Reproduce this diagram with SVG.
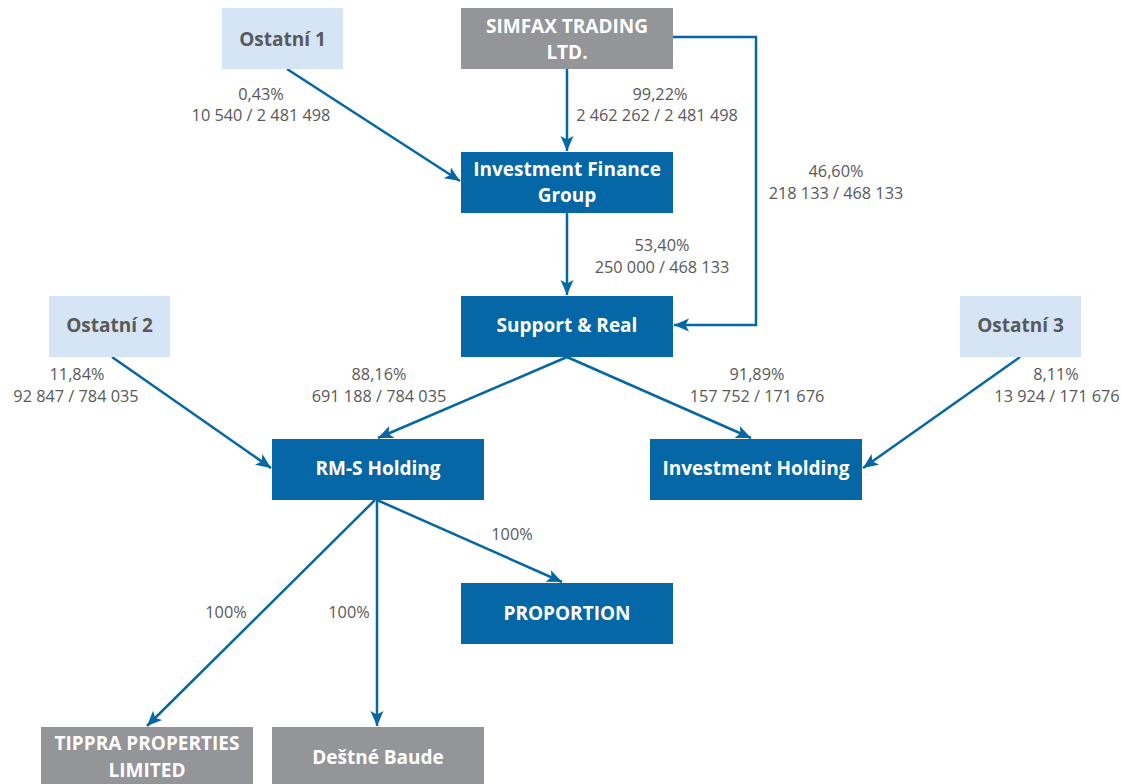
<svg xmlns="http://www.w3.org/2000/svg" width="1122" height="784" viewBox="0 0 1122 784">
<defs>
<marker id="ah" markerUnits="userSpaceOnUse" markerWidth="16" markerHeight="16" viewBox="0 0 16 16" refX="15" refY="8" orient="auto">
<path d="M0,1.5 L15,8 L0,14.5 L3.5,8 Z" fill="#0567a5"/>
</marker>
<style>
.dk{fill:#0567a5}
.lt{fill:#d5e5f5}
.gr{fill:#939598}
.tw{font-family:"Open Sans","Noto Sans",sans-serif;font-weight:bold;font-size:19px;fill:#ffffff;text-anchor:middle}
.tg{font-family:"Open Sans","Noto Sans",sans-serif;font-weight:bold;font-size:19px;fill:#58595b;text-anchor:middle}
.lb{font-family:"Open Sans","Noto Sans",sans-serif;font-size:16.3px;fill:#58595b;text-anchor:middle}
.cn{fill:none;stroke:#0567a5;stroke-width:2.5;marker-end:url(#ah)}
</style>
</defs>
<g id="connectors">
<path class="cn" d="M287,69 L460,181"/>
<path class="cn" d="M567,69 L567,151"/>
<path class="cn" d="M673,37 L756,37 L756,325 L674,325"/>
<path class="cn" d="M567,213 L567,295"/>
<path class="cn" d="M567,357 L378,438"/>
<path class="cn" d="M567,357 L751,438"/>
<path class="cn" d="M112,357 L271,468"/>
<path class="cn" d="M1020,357 L863,468"/>
<path class="cn" d="M377,500 L562,582"/>
<path class="cn" d="M375,500 L147,726"/>
<path class="cn" d="M377,500 L377,726"/>
</g>
<g id="labels">
<text class="lb" x="261" y="100">0,43%</text>
<text class="lb" x="261" y="121">10 540 / 2 481 498</text>
<text class="lb" x="660" y="100">99,22%</text>
<text class="lb" x="657" y="121">2 462 262 / 2 481 498</text>
<text class="lb" x="836" y="177">46,60%</text>
<text class="lb" x="836" y="199">218 133 / 468 133</text>
<text class="lb" x="662" y="251">53,40%</text>
<text class="lb" x="662" y="273">250 000 / 468 133</text>
<text class="lb" x="77" y="380">11,84%</text>
<text class="lb" x="76" y="402">92 847 / 784 035</text>
<text class="lb" x="379" y="380">88,16%</text>
<text class="lb" x="379" y="402">691 188 / 784 035</text>
<text class="lb" x="757" y="380">91,89%</text>
<text class="lb" x="757" y="402">157 752 / 171 676</text>
<text class="lb" x="1056" y="380">8,11%</text>
<text class="lb" x="1057" y="402">13 924 / 171 676</text>
<text class="lb" x="512" y="540">100%</text>
<text class="lb" x="226" y="618">100%</text>
<text class="lb" x="349" y="618">100%</text>
</g>
<g id="ostatni1"><rect class="lt" x="222" y="8" width="121" height="61"/><text class="tg" x="282.5" y="46">Ostatní 1</text></g>
<g id="simfax"><rect class="gr" x="461" y="8" width="212" height="61"/><text class="tw" x="567" y="33">SIMFAX TRADING</text><text class="tw" x="567" y="59">LTD.</text></g>
<g id="ifg"><rect class="dk" x="461" y="152" width="212" height="61"/><text class="tw" x="567" y="176">Investment Finance</text><text class="tw" x="567" y="202">Group</text></g>
<g id="support"><rect class="dk" x="461" y="296" width="212" height="61"/><text class="tw" x="567" y="332">Support &amp; Real</text></g>
<g id="ostatni2"><rect class="lt" x="49" y="296" width="121" height="61"/><text class="tg" x="109.5" y="332">Ostatní 2</text></g>
<g id="ostatni3"><rect class="lt" x="960" y="296" width="121" height="61"/><text class="tg" x="1020.5" y="332">Ostatní 3</text></g>
<g id="rms"><rect class="dk" x="272" y="439" width="212" height="61"/><text class="tw" x="378" y="475">RM-S Holding</text></g>
<g id="invholding"><rect class="dk" x="650" y="439" width="212" height="61"/><text class="tw" x="756" y="475">Investment Holding</text></g>
<g id="proportion"><rect class="dk" x="461" y="583" width="212" height="61"/><text class="tw" x="567" y="620">PROPORTION</text></g>
<g id="tippra"><rect class="gr" x="41" y="727" width="212" height="61"/><text class="tw" x="147" y="750">TIPPRA PROPERTIES</text><text class="tw" x="147" y="777">LIMITED</text></g>
<g id="destne"><rect class="gr" x="272" y="727" width="212" height="61"/><text class="tw" x="378" y="764">Deštné Baude</text></g>
</svg>
